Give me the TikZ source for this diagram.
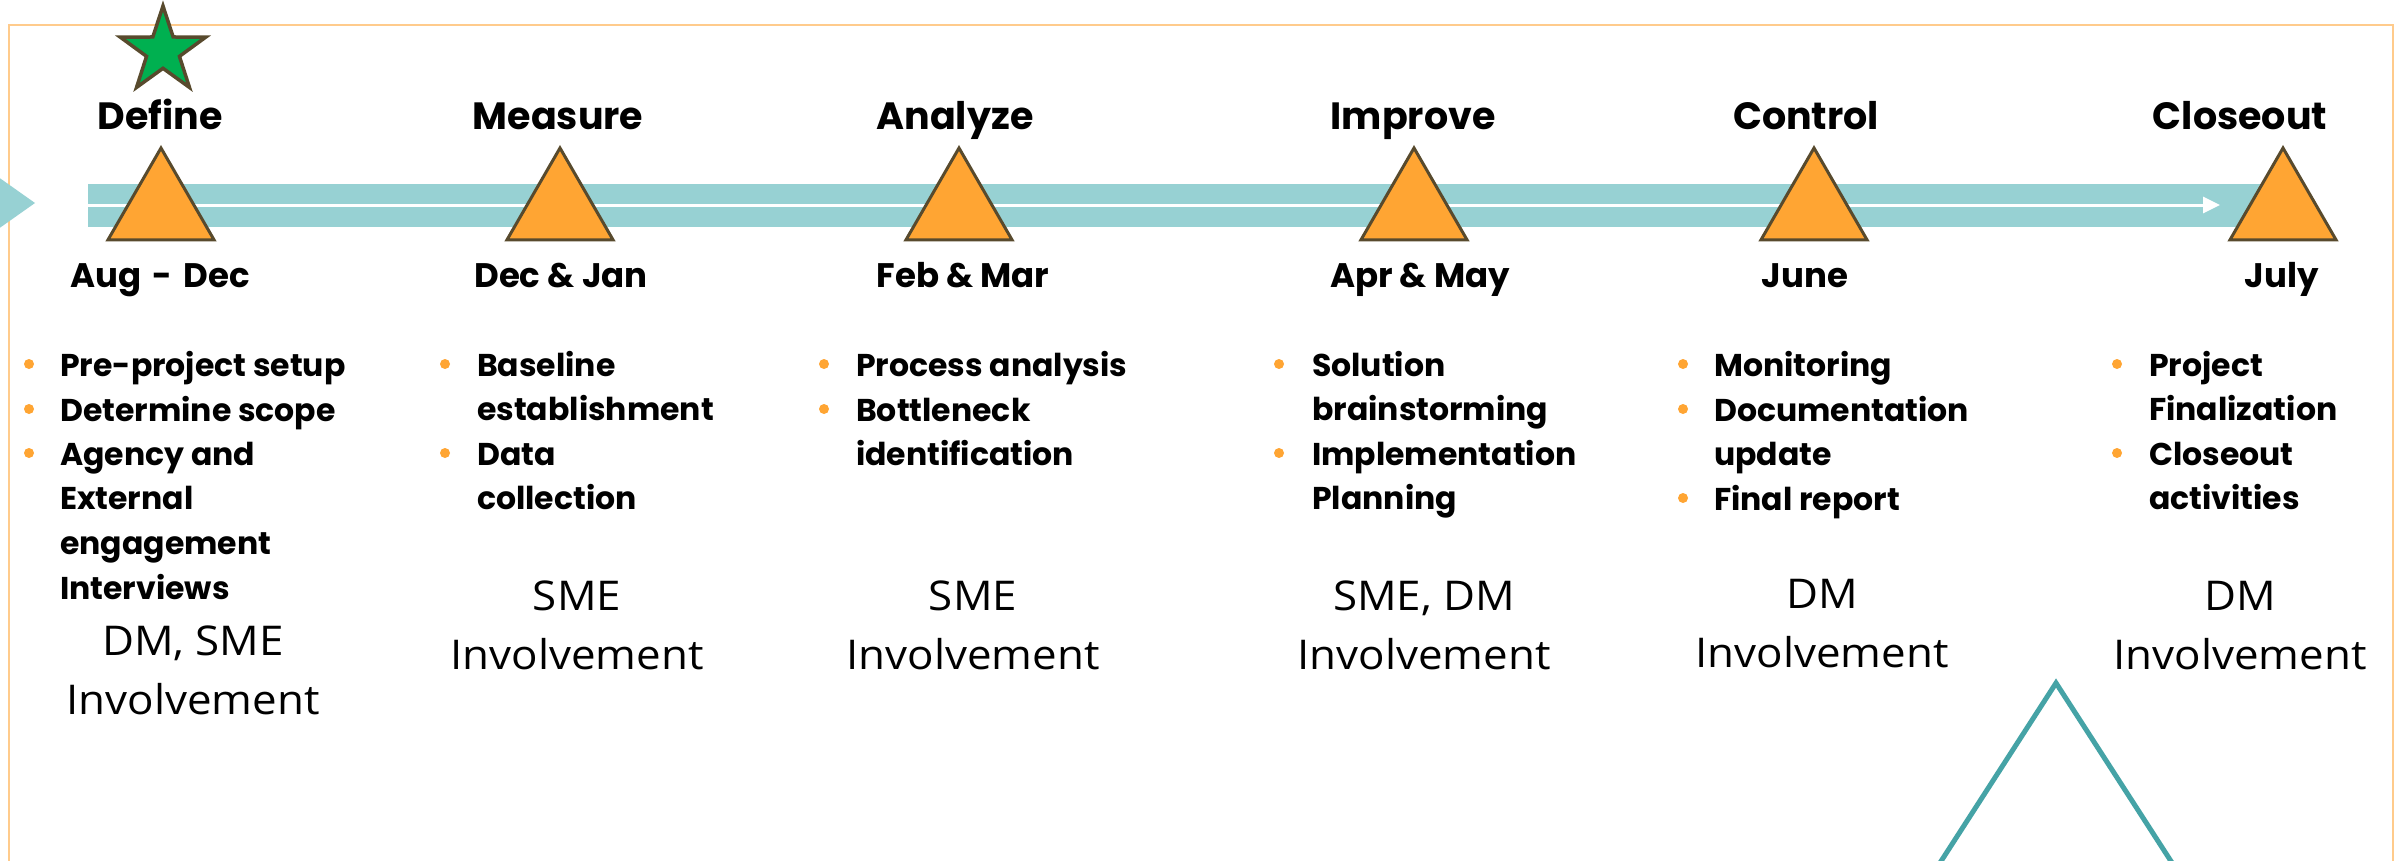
\documentclass[tikz,border=0pt]{standalone}
\usepackage{fontspec}
\setmainfont{Open Sans}
\newfontfamily\popfont{Poppins}
\newfontfamily\invfont{Open Sans}[FakeStretch=1.07]
\usetikzlibrary{shapes.geometric,arrows.meta}
\definecolor{barteal}{HTML}{97D1D3}
\definecolor{lineteal}{HTML}{45A3A6}
\definecolor{triorange}{HTML}{FFA533}
\definecolor{edgebrown}{HTML}{584A2D}
\definecolor{stargreen}{HTML}{00B050}
\definecolor{frameorange}{HTML}{FFCB8C}
\newcommand\lstk[1]{\begin{tabular}[t]{@{}l@{}}#1\end{tabular}}
\newcommand\cstk[1]{\begin{tabular}[t]{@{}c@{}}#1\end{tabular}}
\begin{document}
\begin{tikzpicture}[x=1pt,y=-1pt,
  phase/.style={font=\popfont\bfseries\fontsize{38}{46}\selectfont, anchor=base, inner sep=0},
  datelbl/.style={font=\popfont\bfseries\fontsize{34}{40}\selectfont, anchor=base, inner sep=0},
  item/.style={font=\popfont\bfseries\fontsize{31.5}{44.7}\selectfont, anchor=base west, inner sep=0},
  bdot/.style={circle, fill=triorange, inner sep=0, minimum size=10pt},
  inv/.style={font=\invfont\fontsize{41}{59}\selectfont, anchor=base, inner sep=0},
  milestone/.style={regular polygon, regular polygon sides=3, minimum size=122.4pt, inner sep=0, fill=triorange, draw=edgebrown, line width=3pt}]
\useasboundingbox (0,0) rectangle (2405,861);
\clip (0,0) rectangle (2405,861);
\fill[white] (0,0) rectangle (2405,861);
% frame
\draw[frameorange, line width=2pt] (9,900) -- (9,25) -- (2393,25) -- (2393,900);
% left teal arrow head
\fill[barteal] (-40,150) -- (35,203) -- (-40,256) -- cycle;
% bar
\fill[barteal] (88,184) rectangle (2285,227);
\coordinate (lstart) at (88,205);
\coordinate (lend) at (2220,205);
\draw[white, line width=3pt, -{Triangle[length=17pt,width=16pt]}] (lstart) -- (lend);
% milestones
\node[milestone] (t1) at (161,209.2) {};
\node[milestone] (t2) at (560,209.2) {};
\node[milestone] (t3) at (959,209.2) {};
\node[milestone] (t4) at (1414,209.2) {};
\node[milestone] (t5) at (1814,209.2) {};
\node[milestone] (t6) at (2283,209.2) {};
% star
\node[star, star points=5, star point ratio=2.6, minimum size=90pt, inner sep=0, fill=stargreen, draw=edgebrown, line width=3.5pt] (star) at (163,51) {};
% phase labels
\node[phase] (p1) at (160,130) {Define};
\node[phase] (p2) at (558,130) {Measure};
\node[phase] (p3) at (955,130) {Analyze};
\node[phase] (p4) at (1413,130) {Improve};
\node[phase] (p5) at (1806,130) {Control};
\node[phase] (p6) at (2240,130) {Closeout};
% dates
\node[datelbl] (d1) at (160,287) {Aug\hspace{4pt} - \hspace{4pt}Dec};
\node[datelbl] (d2) at (561,287) {Dec \& Jan};
\node[datelbl] (d3) at (963,287) {Feb \& Mar};
\node[datelbl] (d4) at (1420,287) {Apr \& May};
\node[datelbl] (d5) at (1805,287) {June};
\node[datelbl] (d6) at (2282,287) {July};
% Define bullets
\node[bdot] (b11) at (29,364) {};
\node[bdot] (b12) at (29,409) {};
\node[bdot] (b13) at (29,453) {};
\node[item] (i11) at (60,376) {Pre-project setup};
\node[item] (i12) at (60,421) {Determine scope};
\node[item] (i13) at (60,465) {\lstk{Agency and\\External\\engagement\\Interviews}};
% Measure bullets
\node[bdot] (b21) at (445,364) {};
\node[bdot] (b22) at (445,453) {};
\node[item] (i21) at (477,376) {\lstk{Baseline\\establishment}};
\node[item] (i22) at (477,465) {\lstk{Data\\collection}};
% Analyze bullets
\node[bdot] (b31) at (824,364) {};
\node[bdot] (b32) at (824,409) {};
\node[item] (i31) at (856,376) {Process analysis};
\node[item] (i32) at (856,421) {\lstk{Bottleneck\\identification}};
% Improve bullets
\node[bdot] (b41) at (1279,364) {};
\node[bdot] (b42) at (1279,453) {};
\node[item] (i41) at (1312,376) {\lstk{Solution\\brainstorming}};
\node[item] (i42) at (1312,465) {\lstk{Implementation\\Planning}};
% Control bullets
\node[bdot] (b51) at (1683,364) {};
\node[bdot] (b52) at (1683,409) {};
\node[bdot] (b53) at (1683,498) {};
\node[item] (i51) at (1714,376) {Monitoring};
\node[item] (i52) at (1714,421) {\lstk{Documentation\\update}};
\node[item] (i53) at (1714,510) {Final report};
% Closeout bullets
\node[bdot] (b61) at (2117,364) {};
\node[bdot] (b62) at (2117,453) {};
\node[item] (i61) at (2149,376) {\lstk{Project\\Finalization}};
\node[item] (i62) at (2149,465) {\lstk{Closeout\\activities}};
% involvement
\node[inv] (v1) at (193,655) {\cstk{DM, SME\\Involvement}};
\node[inv] (v2) at (577,610) {\cstk{SME\\Involvement}};
\node[inv] (v3) at (973,610) {\cstk{SME\\Involvement}};
\node[inv] (v4) at (1424,610) {\cstk{SME, DM\\Involvement}};
\node[inv] (v5) at (1822,608) {\cstk{DM\\Involvement}};
\node[inv] (v6) at (2240,610) {\cstk{DM\\Involvement}};
% teal outline triangle
\coordinate (ta) at (2056,683);
\coordinate (tl) at (1916,900);
\coordinate (tr) at (2196,900);
\draw[lineteal, line width=5pt, line join=miter] (tl) -- (ta) -- (tr);
\end{tikzpicture}
\end{document}
